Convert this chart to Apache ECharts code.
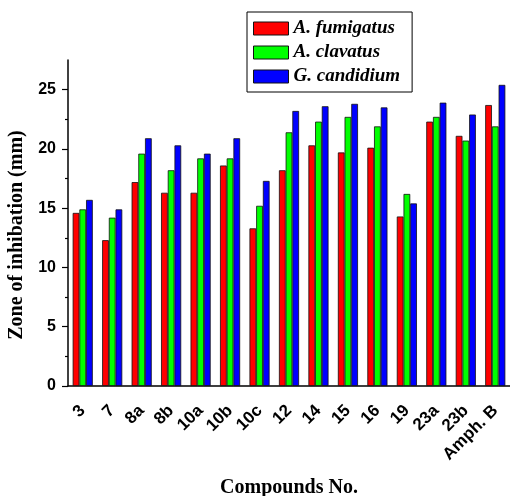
<!DOCTYPE html>
<html>
<head>
<meta charset="utf-8">
<script src="https://cdn.jsdelivr.net/npm/echarts@6/dist/echarts.min.js"></script>
<style>html,body{margin:0;padding:0;background:#fff}#c{width:510px;height:496px}</style>
</head>
<body>
<div id="c"></div>
<script>
var categories = ['3','7','8a','8b','10a','10b','10c','12','14','15','16','19','23a','23b','Amph. B'];
var fumigatus = [14.6,12.3,17.2,16.3,16.3,18.6,13.3,18.2,20.3,19.7,20.1,14.3,22.3,21.1,23.7];
var clavatus  = [14.9,14.2,19.6,18.2,19.2,19.2,15.2,21.4,22.3,22.7,21.9,16.2,22.7,20.7,21.9];
var candidium = [15.7,14.9,20.9,20.3,19.6,20.9,17.3,23.2,23.6,23.8,23.5,15.4,23.9,22.9,25.4];
var seriesNames = ['A. fumigatus','A. clavatus','G. candidium'];
var yMajor = [0,5,10,15,20,25];
var yMinor = [2.5,7.5,12.5,17.5,22.5];

var chart = echarts.init(document.getElementById('c'));
var serif = 'Liberation Serif';
var sans = 'Liberation Sans';
function bar(name, data, color){
  return {name:name, type:'bar', data:data, barWidth:6.7, barGap:'0%',
    itemStyle:{color:color, borderColor:'#111', borderWidth:0.8}};
}
chart.setOption({
  animation:false,
  grid:{left:68, right:0, top:60, bottom:110, containLabel:false, outerBoundsMode:'none'},
  legend:{
    orient:'vertical', left:247, top:12,
    padding:[7,12,6,6], itemGap:5, itemWidth:35, itemHeight:13, icon:'rect',
    borderColor:'#000', borderWidth:1,
    itemStyle:{borderColor:'#111', borderWidth:1},
    textStyle:{fontFamily:serif, fontWeight:'bold', fontStyle:'italic', fontSize:19, color:'#000'},
    data:seriesNames
  },
  xAxis:[{
    type:'category', data:categories,
    axisLine:{lineStyle:{color:'#000', width:1.5}},
    axisTick:{alignWithLabel:true, length:6, lineStyle:{color:'#000', width:1.2}},
    axisLabel:{rotate:45, fontFamily:sans, fontWeight:'bold', fontSize:17, color:'#000', margin:22, interval:0},
    name:'Compounds No.', nameLocation:'middle', nameGap:92,
    nameTextStyle:{fontFamily:serif, fontWeight:'bold', fontSize:20, color:'#000'}
  },{
    type:'category', data:categories, position:'bottom',
    axisLine:{show:false},
    axisTick:{length:3, lineStyle:{color:'#000', width:1.2}},
    axisLabel:{show:false}
  }],
  yAxis:[{
    type:'value', min:0, max:27.5, interval:5,
    axisLine:{show:true, lineStyle:{color:'#000', width:1.5}},
    axisTick:{show:true, length:6, customValues:yMajor, lineStyle:{color:'#000', width:1.2}},
    axisLabel:{customValues:yMajor, fontFamily:sans, fontWeight:'bold', fontSize:16, color:'#000', margin:12},
    splitLine:{show:false},
    name:'Zone of inhibation (mm)', nameLocation:'middle', nameGap:38,
    nameTextStyle:{fontFamily:serif, fontWeight:'bold', fontSize:20, color:'#000', padding:[0,24,0,0]}
  },{
    type:'value', min:0, max:27.5, interval:2.5, position:'left',
    axisLine:{show:false},
    axisTick:{show:true, length:3, customValues:yMinor, lineStyle:{color:'#000', width:1.2}},
    axisLabel:{show:false},
    splitLine:{show:false}
  }],
  series:[
    bar(seriesNames[0], fumigatus, '#ff0000'),
    bar(seriesNames[1], clavatus, '#00ff00'),
    bar(seriesNames[2], candidium, '#0000ff')
  ]
});
</script>
</body>
</html>
